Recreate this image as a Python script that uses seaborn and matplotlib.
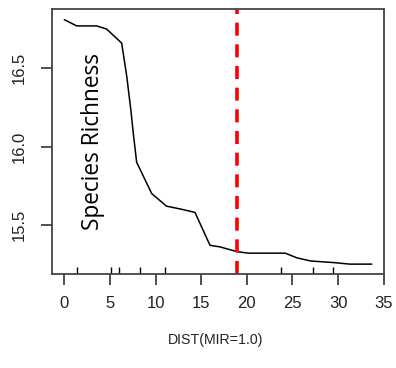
import matplotlib
matplotlib.use("Agg")
import matplotlib.pyplot as plt
import seaborn as sns
import pandas as pd

# data
dist = [0, 1.36, 3.55, 4.64, 6.29, 6.84, 7.3, 7.56, 7.93, 9.58, 11.2, 12.86,
        14.32, 15.97, 17.06, 18.9, 20.16, 24.2, 25.5, 27.0, 29.5, 31.3, 33.7]
richness = [16.81, 16.77, 16.77, 16.75, 16.66, 16.45, 16.23, 16.085, 15.90,
            15.70, 15.62, 15.60, 15.58, 15.37, 15.36, 15.33, 15.32, 15.32,
            15.29, 15.27, 15.26, 15.25, 15.25]
rug_x = [1.36, 5.08, 5.99, 8.3, 11.07, 23.8, 27.2, 29.4]
cutoff = 18.9
x_ticks = [0, 5, 10, 15, 20, 25, 30, 35]
y_ticks = [15.5, 16.0, 16.5]
x_label = "DIST(MIR=1.0)"
inner_label = "Species Richness"

sns.set_style("ticks")
plt.rcParams["font.family"] = ["Liberation Sans", "DejaVu Sans"]

df = pd.DataFrame({"dist": dist, "richness": richness})

fig = plt.figure(figsize=(3.96, 3.68), dpi=100)
ax = fig.add_axes([51.7 / 396, 1 - 274 / 368, 332 / 396, 265 / 368])

sns.lineplot(data=df, x="dist", y="richness", ax=ax, color="black",
             linewidth=1.1, estimator=None, sort=False)
sns.rugplot(x=rug_x, ax=ax, height=0.027, color="black", linewidth=1.0,
            expand_margins=False)
ax.axvline(cutoff, color="#ff0000", linewidth=2.6, linestyle=(0, (3.6, 2.4)))

ax.set_xlim(-1.38, 35.0)
ax.set_ylim(15.187, 16.878)
ax.set_xticks(x_ticks)
ax.set_yticks(y_ticks)
ax.set_xticklabels([str(v) for v in x_ticks])
ax.set_yticklabels([f"{v:.1f}" for v in y_ticks])

for side in ["left", "right", "top", "bottom"]:
    ax.spines[side].set_visible(True)
    ax.spines[side].set_color("#444444")
    ax.spines[side].set_linewidth(1.3)

ax.tick_params(axis="both", direction="out", length=8, width=1.1,
               color="#222222", labelsize=12, labelcolor="#222222")
ax.tick_params(axis="x", pad=8.0)
ax.tick_params(axis="y", pad=10.0, labelrotation=90)
for lab in ax.get_yticklabels():
    lab.set_va("center")

ax.set_ylabel("")
ax.set_xlabel(x_label, fontsize=10.2, color="#222222")
ax.xaxis.set_label_coords((216 - 51.7) / 332, (274 - 340) / 265)
ax.xaxis.label.set_va("center")

ax.text((93 - 51.7) / 332, (274 - 142) / 265, inner_label, transform=ax.transAxes,
        rotation=90, ha="center", va="center", fontsize=16.3,
        family=["Open Sans", "DejaVu Sans"], color="black")

fig.savefig("out.png", dpi=100)
